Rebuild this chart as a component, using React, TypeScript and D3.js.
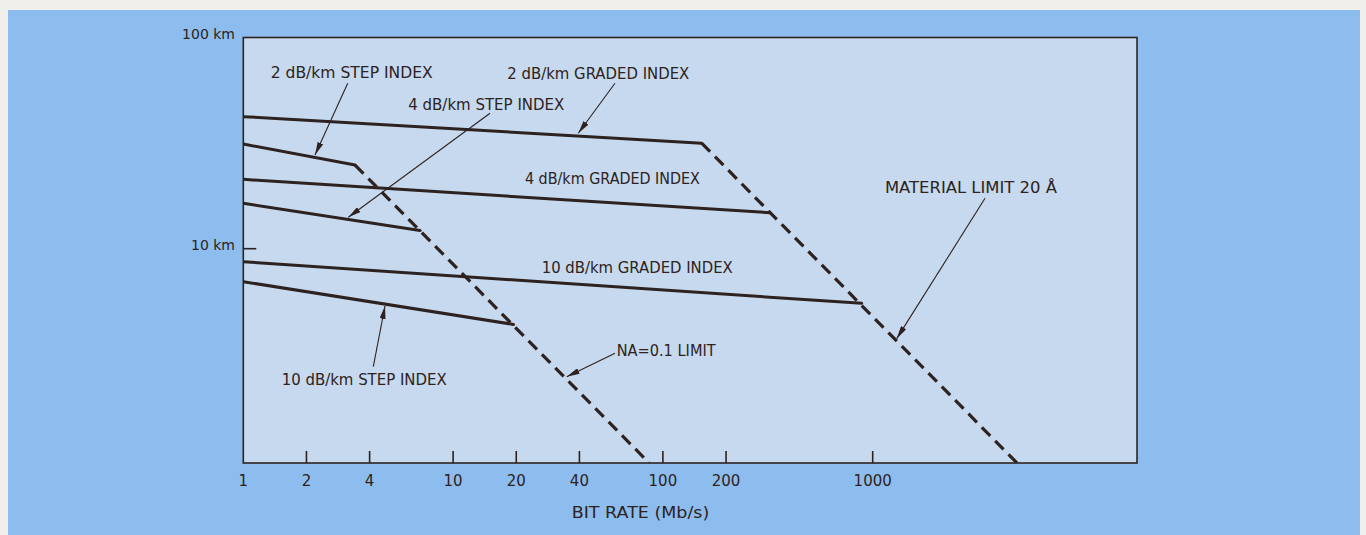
import React from "react";
import * as d3 from "d3";

// ---- data (bit rate Mb/s, distance km) ----
const xTicks = [1, 2, 4, 10, 20, 40, 100, 200, 1000];
const yTickLabels = [
  { v: 100, label: "100 km" },
  { v: 10, label: "10 km" },
];

const graded2 = [[1, 42.2], [153, 31.6]];
const graded4 = [[1, 21.3], [324, 14.8]];
const graded10 = [[1, 8.68], [886, 5.51]];
const step2 = [[1, 31.3], [3.41, 24.9]];
const step4 = [[1, 16.4], [6.96, 12.2]];
const step10 = [[1, 6.98], [19.4, 4.38]];
const naLimit = [[3.41, 24.9], [86, 0.967]];
const materialLimit = [[153, 31.6], [4875, 0.967]];

const solidSeries = [graded2, graded4, graded10, step2, step4, step10];
const dashedSeries = [naLimit, materialLimit];

// text labels: [text, x (Mb/s) at start, y (km) at middle, width px]
const labels = [
  { text: "2 dB/km STEP INDEX", x: 1.351, y: 67.7, w: 162 },
  { text: "2 dB/km GRADED INDEX", x: 18.13, y: 67.2, w: 182 },
  { text: "4 dB/km STEP INDEX", x: 6.115, y: 47.9, w: 156 },
  { text: "4 dB/km GRADED INDEX", x: 22.0, y: 21.3, w: 175 },
  { text: "10 dB/km GRADED INDEX", x: 26.45, y: 8.08, w: 191 },
  { text: "10 dB/km STEP INDEX", x: 1.524, y: 2.389, w: 165 },
  { text: "NA=0.1 LIMIT", x: 60.2, y: 3.289, w: 99 },
  { text: "MATERIAL LIMIT 20 Å", x: 1144, y: 19.38, w: 172 },
];

// leader arrows: from (x1,y1) to tip (x2,y2) in data units
const arrows = [
  { from: [3.146, 60.7], to: [2.197, 27.8] },
  { from: [59.1, 60.7], to: [39.5, 35.2] },
  { from: [15.0, 43.8], to: [3.166, 14.08] },
  { from: [4.165, 2.762], to: [4.736, 5.355] },
  { from: [59.1, 3.197], to: [34.8, 2.477] },
  { from: [3430, 17.32], to: [1301, 3.75] },
];

const INK = "#2e2220";
const FONT = "'DejaVu Sans', 'Liberation Sans', sans-serif";
const FS = 15;

export default function App() {
  const W = 1366, H = 535;
  const x0 = 243.3, x1 = 1137, yTop = 37.5, yBot = 463;
  const x = d3.scaleLog().domain([1, Math.pow(10, (x1 - x0) / 209.8)]).range([x0, x1]);
  const y = d3.scaleLog().domain([Math.pow(10, 2 - (yBot - yTop) / 211.2), 100]).range([yBot, yTop]);
  const line = d3.line<number[]>().x((d) => x(d[0])).y((d) => y(d[1]));

  return (
    <div style={{ position: "absolute", left: 0, top: 0 }}>
      <svg width={W} height={H} style={{ display: "block" }} fontFamily={FONT}>
        <defs>
          <marker id="ah" viewBox="0 0 13 6" refX="13" refY="3" markerWidth="13" markerHeight="6" markerUnits="userSpaceOnUse" orient="auto">
            <path d="M0,0 L13,3 L0,6 Z" fill={INK} />
          </marker>
          <clipPath id="plotclip">
            <rect x={x0} y={yTop} width={x1 - x0} height={yBot - yTop} />
          </clipPath>
        </defs>
        <rect x={0} y={0} width={W} height={H} fill="#f1efeb" />
        <rect x={8} y={10} width={1352} height={525} fill="#8dbdee" />
        <rect x={x0} y={yTop} width={x1 - x0} height={yBot - yTop} fill="#c6d9ee" stroke={INK} strokeWidth={1.6} />

        {/* x ticks */}
        {xTicks.map((t) => (
          <g key={"xt" + t}>
            {t !== 1 && <line x1={x(t)} x2={x(t)} y1={yBot} y2={yBot - 12} stroke={INK} strokeWidth={1.6} />}
            <text x={x(t)} y={481} textAnchor="middle" dominantBaseline="central" fontSize={FS} fill={INK}>
              {t}
            </text>
          </g>
        ))}
        {/* y ticks */}
        {yTickLabels.map((t) => (
          <g key={"yt" + t.v}>
            {t.v !== 100 && <line x1={x0} x2={x0 + 13} y1={y(t.v)} y2={y(t.v)} stroke={INK} strokeWidth={1.6} />}
            <text x={235} y={y(t.v) - 4} textAnchor="end" dominantBaseline="central" fontSize={14} fill={INK}>
              {t.label}
            </text>
          </g>
        ))}
        <text x={640.5} y={513.3} textAnchor="middle" dominantBaseline="central" fontSize={FS} fill={INK} textLength={137.6} lengthAdjust="spacingAndGlyphs">
          BIT RATE (Mb/s)
        </text>

        <g clipPath="url(#plotclip)">
          {solidSeries.map((s, i) => (
            <path key={"s" + i} d={line(s) || ""} fill="none" stroke={INK} strokeWidth={3} strokeLinecap="round" />
          ))}
          {dashedSeries.map((s, i) => (
            <path key={"d" + i} d={line(s) || ""} fill="none" stroke={INK} strokeWidth={3.2} strokeDasharray="12 7" />
          ))}
        </g>

        {arrows.map((a, i) => (
          <line key={"a" + i} x1={x(a.from[0])} y1={y(a.from[1])} x2={x(a.to[0])} y2={y(a.to[1])} stroke={INK} strokeWidth={1.1} markerEnd="url(#ah)" />
        ))}

        {labels.map((l) => (
          <text key={l.text} x={x(l.x)} y={y(l.y)} dominantBaseline="central" fontSize={FS} fill={INK} textLength={l.w} lengthAdjust="spacingAndGlyphs">
            {l.text}
          </text>
        ))}
      </svg>
    </div>
  );
}
